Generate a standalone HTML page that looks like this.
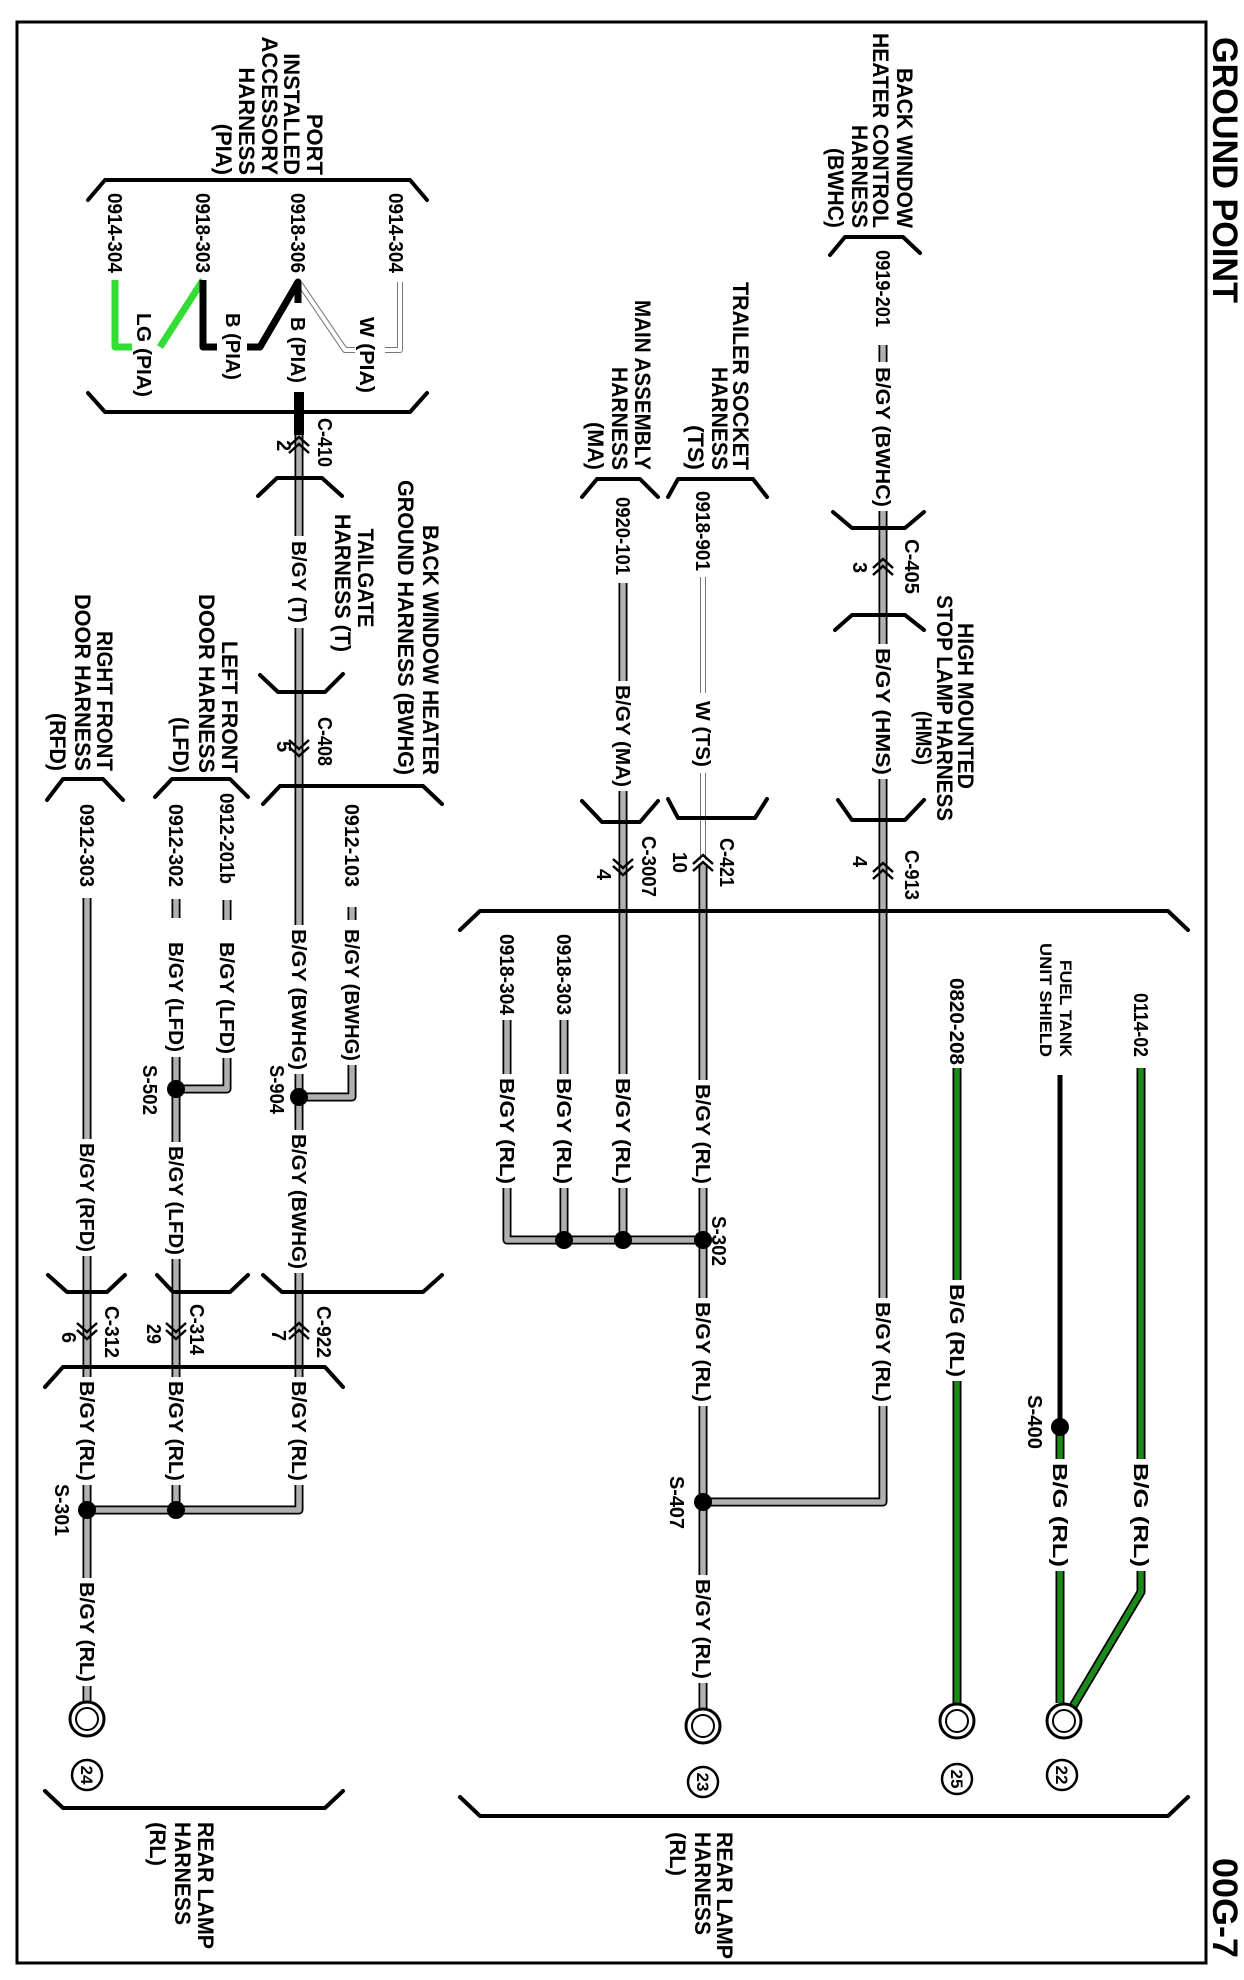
<!DOCTYPE html>
<html><head><meta charset="utf-8"><style>
html,body{margin:0;padding:0;background:#fff;}
svg{display:block;}
text{font-family:"Liberation Sans",Arial,sans-serif;font-weight:bold;fill:#000;}
.w{font-size:20px;}
.h{font-size:22px;}
.s{font-size:17px;}
</style></head><body>
<svg width="1244" height="1980" viewBox="0 0 1244 1980" xmlns="http://www.w3.org/2000/svg">
<rect x="0" y="0" width="1244" height="1980" fill="#fff"/>
<rect x="17" y="22" width="1189" height="1941" fill="none" stroke="#000" stroke-width="3"/>

<defs>
<g id="gray" fill="none">
<path d="M299 433V536 M299 628V925 M299 1074V1130 M299 1273V1377 M299 1485V1510H87
M352 907V920 M352 1065V1097H299 M227 900V920 M227 1058V1089H176
M176 899V918 M176 1057V1142 M176 1259V1377 M176 1485V1510
M87 898V1139 M87 1256V1377 M87 1485V1578 M87 1686V1702
M883 345V362 M883 511V644 M883 779V1298 M883 1406V1502H703
M703 864V1080 M703 1188V1298 M703 1406V1575 M703 1683V1708
M623 583V681 M623 791V1074 M623 1188V1240
M564 1020V1074 M564 1188V1240 M507 1020V1074 M507 1188V1240H703"/>
</g>
<g id="white" fill="none">
<path d="M703 577V693 M703 773V860 M300 284L345 350H355 M385 350H400V282"/>
</g>
<g id="green" fill="none">
<path d="M957 1068V1280 M957 1381V1703 M1060 1427V1459 M1060 1571V1703 M1141 1068V1459 M1141 1571V1592L1072 1708"/>
</g>
</defs>

<use href="#gray" stroke="#000" stroke-width="9" stroke-linejoin="round"/>
<use href="#gray" stroke="#b0b0b0" stroke-width="5.5" stroke-linejoin="round"/>
<use href="#white" stroke="#777" stroke-width="6" stroke-linejoin="round"/>
<use href="#white" stroke="#fff" stroke-width="4" stroke-linejoin="round"/>
<use href="#green" stroke="#000" stroke-width="9" stroke-linejoin="round"/>
<use href="#green" stroke="#1a8a1a" stroke-width="5.5" stroke-linejoin="round"/>

<!-- PIA wires -->
<path d="M115 280V347H132 M160 347L203 280" fill="none" stroke="#33dd33" stroke-width="7" stroke-linejoin="round"/>
<path d="M203 280V347H217 M247 347H260L298 282V303" fill="none" stroke="#000" stroke-width="7" stroke-linejoin="round"/>
<path d="M299 392V435" stroke="#000" stroke-width="10"/>
<path d="M1060 1075V1427" stroke="#000" stroke-width="5"/>

<!-- brackets -->
<g fill="none" stroke="#000" stroke-width="4" stroke-linejoin="round" stroke-linecap="round">
<polyline points="88,200 105,180 410,180 427,200"/>
<polyline points="88,393 105,412 410,412 427,393"/>
<polyline points="258,496 277,478 322,478 342,496"/>
<polyline points="260,675 278,692 325,692 343,674"/>
<polyline points="263,804 280,786 423,786 442,804"/>
<polyline points="155,797 172,779 230,779 248,797"/>
<polyline points="47,800 63,779 103,779 123,800"/>
<polyline points="48,1275 67,1292 107,1292 125,1275"/>
<polyline points="157,1275 173,1292 230,1292 248,1275"/>
<polyline points="263,1275 282,1292 423,1292 442,1275"/>
<polyline points="45,1387 63,1367 325,1367 343,1387"/>
<polyline points="45,1791 63,1808 325,1808 343,1791"/>
<polyline points="460,930 480,911 1168,911 1188,930"/>
<polyline points="460,1797 480,1816 1168,1816 1188,1797"/>
<polyline points="582,497 597,479 640,479 658,497"/>
<polyline points="582,801 602,822 640,822 658,801"/>
<polyline points="668,497 678,479 753,479 767,497"/>
<polyline points="668,799 678,818 755,818 767,799"/>
<polyline points="830,255 845,237 903,237 920,253"/>
<polyline points="833,512 852,528 905,528 924,512"/>
<polyline points="835,630 852,615 905,615 924,630"/>
<polyline points="838,800 852,820 905,820 924,800"/>
</g>

<!-- chevrons -->
<g fill="none" stroke="#000" stroke-width="2.5">
<path d="M289 446L299 437L309 446 M289 453L299 444L309 453"/>
<path d="M289 740L299 749L309 740 M289 747L299 756L309 747"/>
<path d="M77 1323L87 1332L97 1323 M77 1330L87 1339L97 1330"/>
<path d="M166 1323L176 1332L186 1323 M166 1330L176 1339L186 1330"/>
<path d="M289 1332L299 1323L309 1332 M289 1339L299 1330L309 1339"/>
<path d="M873 568L883 559L893 568 M873 575L883 566L893 575"/>
<path d="M873 872L883 863L893 872 M873 879L883 870L893 879"/>
<path d="M693 864L703 855L713 864 M693 871L703 862L713 871"/>
<path d="M613 859L623 868L633 859 M613 866L623 875L633 866"/>
</g>

<!-- splice dots -->
<g fill="#000">
<circle cx="87" cy="1510" r="9"/><circle cx="176" cy="1510" r="9"/>
<circle cx="176" cy="1089" r="9"/><circle cx="299" cy="1097" r="9"/>
<circle cx="703" cy="1240" r="9"/><circle cx="623" cy="1240" r="9"/><circle cx="564" cy="1240" r="9"/>
<circle cx="703" cy="1502" r="9"/><circle cx="1060" cy="1427" r="9"/>
</g>

<!-- ground symbols -->
<g fill="#fff" stroke="#000">
<circle cx="87" cy="1719" r="17" stroke-width="3"/><circle cx="87" cy="1719" r="11" stroke-width="2"/>
<circle cx="703" cy="1726" r="17" stroke-width="3"/><circle cx="703" cy="1726" r="11" stroke-width="2"/>
<circle cx="957" cy="1721" r="17" stroke-width="3"/><circle cx="957" cy="1721" r="11" stroke-width="2"/>
<circle cx="1064" cy="1721" r="17" stroke-width="3"/><circle cx="1064" cy="1721" r="11" stroke-width="2"/>
<circle cx="87" cy="1775" r="15" stroke-width="2.5"/>
<circle cx="703" cy="1782" r="15" stroke-width="2.5"/>
<circle cx="957" cy="1779" r="15" stroke-width="2.5"/>
<circle cx="1062" cy="1775" r="15" stroke-width="2.5"/>
</g>
<g class="s" text-anchor="middle">
<text transform="translate(81,1775) rotate(90)">24</text>
<text transform="translate(697,1782) rotate(90)">23</text>
<text transform="translate(951,1779) rotate(90)">25</text>
<text transform="translate(1056,1775) rotate(90)">22</text>
</g>

<!-- titles -->
<text transform="translate(1213,37) rotate(90)" style="font-size:35px" textLength="266" lengthAdjust="spacingAndGlyphs">GROUND POINT</text>
<text transform="translate(1213,1858) rotate(90)" style="font-size:35px" textLength="100" lengthAdjust="spacingAndGlyphs">00G-7</text>

<!-- wire labels -->
<g class="w">
<text transform="translate(108,193) rotate(90)" textLength="80" lengthAdjust="spacingAndGlyphs">0914-304</text>
<text transform="translate(196,193) rotate(90)" textLength="80" lengthAdjust="spacingAndGlyphs">0918-303</text>
<text transform="translate(291,193) rotate(90)" textLength="80" lengthAdjust="spacingAndGlyphs">0918-306</text>
<text transform="translate(389,193) rotate(90)" textLength="80" lengthAdjust="spacingAndGlyphs">0914-304</text>
<text transform="translate(137,313) rotate(90)" textLength="84" lengthAdjust="spacingAndGlyphs">LG (PIA)</text>
<text transform="translate(226,313) rotate(90)" textLength="67" lengthAdjust="spacingAndGlyphs">B (PIA)</text>
<text transform="translate(291,317) rotate(90)" textLength="66" lengthAdjust="spacingAndGlyphs">B (PIA)</text>
<text transform="translate(360,317) rotate(90)" textLength="76" lengthAdjust="spacingAndGlyphs">W (PIA)</text>
<text transform="translate(318,418) rotate(90)" textLength="49" lengthAdjust="spacingAndGlyphs">C-410</text>
<text transform="translate(277,440) rotate(90)">2</text>
<text transform="translate(292,541) rotate(90)" textLength="82" lengthAdjust="spacingAndGlyphs">B/GY (T)</text>
<text transform="translate(318,717) rotate(90)" textLength="49" lengthAdjust="spacingAndGlyphs">C-408</text>
<text transform="translate(277,741) rotate(90)">5</text>
<text transform="translate(345,804) rotate(90)" textLength="83" lengthAdjust="spacingAndGlyphs">0912-103</text>
<text transform="translate(345,929) rotate(90)" textLength="132" lengthAdjust="spacingAndGlyphs">B/GY (BWHG)</text>
<text transform="translate(292,929) rotate(90)" textLength="141" lengthAdjust="spacingAndGlyphs">B/GY (BWHG)</text>
<text transform="translate(220,793) rotate(90)" textLength="91" lengthAdjust="spacingAndGlyphs">0912-201b</text>
<text transform="translate(220,942) rotate(90)" textLength="112" lengthAdjust="spacingAndGlyphs">B/GY (LFD)</text>
<text transform="translate(169,804) rotate(90)" textLength="83" lengthAdjust="spacingAndGlyphs">0912-302</text>
<text transform="translate(169,942) rotate(90)" textLength="110" lengthAdjust="spacingAndGlyphs">B/GY (LFD)</text>
<text transform="translate(80,804) rotate(90)" textLength="83" lengthAdjust="spacingAndGlyphs">0912-303</text>
<text transform="translate(270,1065) rotate(90)" textLength="49" lengthAdjust="spacingAndGlyphs">S-904</text>
<text transform="translate(143,1065) rotate(90)" textLength="50" lengthAdjust="spacingAndGlyphs">S-502</text>
<text transform="translate(80,1143) rotate(90)" textLength="109" lengthAdjust="spacingAndGlyphs">B/GY (RFD)</text>
<text transform="translate(169,1146) rotate(90)" textLength="109" lengthAdjust="spacingAndGlyphs">B/GY (LFD)</text>
<text transform="translate(292,1134) rotate(90)" textLength="135" lengthAdjust="spacingAndGlyphs">B/GY (BWHG)</text>
<text transform="translate(105,1306) rotate(90)" textLength="52" lengthAdjust="spacingAndGlyphs">C-312</text>
<text transform="translate(62,1332) rotate(90)">6</text>
<text transform="translate(190,1304) rotate(90)" textLength="51" lengthAdjust="spacingAndGlyphs">C-314</text>
<text transform="translate(147,1324) rotate(90)" textLength="20" lengthAdjust="spacingAndGlyphs">29</text>
<text transform="translate(317,1306) rotate(90)" textLength="52" lengthAdjust="spacingAndGlyphs">C-922</text>
<text transform="translate(272,1330) rotate(90)">7</text>
<text transform="translate(80,1381) rotate(90)" textLength="100" lengthAdjust="spacingAndGlyphs">B/GY (RL)</text>
<text transform="translate(169,1381) rotate(90)" textLength="100" lengthAdjust="spacingAndGlyphs">B/GY (RL)</text>
<text transform="translate(292,1381) rotate(90)" textLength="100" lengthAdjust="spacingAndGlyphs">B/GY (RL)</text>
<text transform="translate(55,1484) rotate(90)" textLength="52" lengthAdjust="spacingAndGlyphs">S-301</text>
<text transform="translate(80,1582) rotate(90)" textLength="100" lengthAdjust="spacingAndGlyphs">B/GY (RL)</text>

<text transform="translate(876,250) rotate(90)" textLength="77" lengthAdjust="spacingAndGlyphs">0919-201</text>
<text transform="translate(876,367) rotate(90)" textLength="140" lengthAdjust="spacingAndGlyphs">B/GY (BWHC)</text>
<text transform="translate(905,539) rotate(90)" textLength="55" lengthAdjust="spacingAndGlyphs">C-405</text>
<text transform="translate(853,562) rotate(90)">3</text>
<text transform="translate(876,648) rotate(90)" textLength="127" lengthAdjust="spacingAndGlyphs">B/GY (HMS)</text>
<text transform="translate(905,850) rotate(90)" textLength="50" lengthAdjust="spacingAndGlyphs">C-913</text>
<text transform="translate(853,856) rotate(90)">4</text>
<text transform="translate(696,491) rotate(90)" textLength="80" lengthAdjust="spacingAndGlyphs">0918-901</text>
<text transform="translate(696,701) rotate(90)" textLength="66" lengthAdjust="spacingAndGlyphs">W (TS)</text>
<text transform="translate(720,838) rotate(90)" textLength="49" lengthAdjust="spacingAndGlyphs">C-421</text>
<text transform="translate(673,852) rotate(90)" textLength="21" lengthAdjust="spacingAndGlyphs">10</text>
<text transform="translate(616,497) rotate(90)" textLength="78" lengthAdjust="spacingAndGlyphs">0920-101</text>
<text transform="translate(616,685) rotate(90)" textLength="102" lengthAdjust="spacingAndGlyphs">B/GY (MA)</text>
<text transform="translate(642,836) rotate(90)" textLength="61" lengthAdjust="spacingAndGlyphs">C-3007</text>
<text transform="translate(597,869) rotate(90)">4</text>
<text transform="translate(557,934) rotate(90)" textLength="81" lengthAdjust="spacingAndGlyphs">0918-303</text>
<text transform="translate(500,934) rotate(90)" textLength="81" lengthAdjust="spacingAndGlyphs">0918-304</text>
<text transform="translate(500,1078) rotate(90)" textLength="106" lengthAdjust="spacingAndGlyphs">B/GY (RL)</text>
<text transform="translate(557,1078) rotate(90)" textLength="106" lengthAdjust="spacingAndGlyphs">B/GY (RL)</text>
<text transform="translate(616,1078) rotate(90)" textLength="106" lengthAdjust="spacingAndGlyphs">B/GY (RL)</text>
<text transform="translate(696,1084) rotate(90)" textLength="100" lengthAdjust="spacingAndGlyphs">B/GY (RL)</text>
<text transform="translate(712,1216) rotate(90)" textLength="50" lengthAdjust="spacingAndGlyphs">S-302</text>
<text transform="translate(696,1302) rotate(90)" textLength="100" lengthAdjust="spacingAndGlyphs">B/GY (RL)</text>
<text transform="translate(876,1302) rotate(90)" textLength="100" lengthAdjust="spacingAndGlyphs">B/GY (RL)</text>
<text transform="translate(670,1476) rotate(90)" textLength="53" lengthAdjust="spacingAndGlyphs">S-407</text>
<text transform="translate(696,1579) rotate(90)" textLength="100" lengthAdjust="spacingAndGlyphs">B/GY (RL)</text>
<text transform="translate(950,978) rotate(90)" textLength="87" lengthAdjust="spacingAndGlyphs">0820-208</text>
<text transform="translate(950,1284) rotate(90)" textLength="93" lengthAdjust="spacingAndGlyphs">B/G (RL)</text>
<text transform="translate(1028,1395) rotate(90)" textLength="54" lengthAdjust="spacingAndGlyphs">S-400</text>
<text transform="translate(1053,1463) rotate(90)" textLength="104" lengthAdjust="spacingAndGlyphs">B/G (RL)</text>
<text transform="translate(1134,993) rotate(90)" textLength="64" lengthAdjust="spacingAndGlyphs">0114-02</text>
<text transform="translate(1134,1463) rotate(90)" textLength="104" lengthAdjust="spacingAndGlyphs">B/G (RL)</text>
</g>

<!-- harness labels -->
<g class="h" text-anchor="end">
<text transform="translate(307,175) rotate(90)">PORT</text>
<text transform="translate(284,175) rotate(90)">INSTALLED</text>
<text transform="translate(262,175) rotate(90)">ACCESSORY</text>
<text transform="translate(239,175) rotate(90)">HARNESS</text>
<text transform="translate(216,175) rotate(90)">(PIA)</text>

<text transform="translate(423,775) rotate(90)" textLength="250" lengthAdjust="spacingAndGlyphs">BACK WINDOW HEATER</text>
<text transform="translate(398,775) rotate(90)" textLength="295" lengthAdjust="spacingAndGlyphs">GROUND HARNESS (BWHG)</text>

<text transform="translate(222,773) rotate(90)" textLength="132" lengthAdjust="spacingAndGlyphs">LEFT FRONT</text>
<text transform="translate(199,773) rotate(90)" textLength="179" lengthAdjust="spacingAndGlyphs">DOOR HARNESS</text>
<text transform="translate(173,773) rotate(90)" textLength="56" lengthAdjust="spacingAndGlyphs">(LFD)</text>

<text transform="translate(97,771) rotate(90)" textLength="140" lengthAdjust="spacingAndGlyphs">RIGHT FRONT</text>
<text transform="translate(75,771) rotate(90)" textLength="177" lengthAdjust="spacingAndGlyphs">DOOR HARNESS</text>
<text transform="translate(50,771) rotate(90)" textLength="58" lengthAdjust="spacingAndGlyphs">(RFD)</text>

<text transform="translate(897,228) rotate(90)" textLength="160" lengthAdjust="spacingAndGlyphs">BACK WINDOW</text>
<text transform="translate(873,228) rotate(90)" textLength="195" lengthAdjust="spacingAndGlyphs">HEATER CONTROL</text>
<text transform="translate(852,228) rotate(90)" textLength="103" lengthAdjust="spacingAndGlyphs">HARNESS</text>
<text transform="translate(828,228) rotate(90)" textLength="80" lengthAdjust="spacingAndGlyphs">(BWHC)</text>

<text transform="translate(733,470) rotate(90)" textLength="188" lengthAdjust="spacingAndGlyphs">TRAILER SOCKET</text>
<text transform="translate(712,470) rotate(90)" textLength="103" lengthAdjust="spacingAndGlyphs">HARNESS</text>
<text transform="translate(688,470) rotate(90)" textLength="45" lengthAdjust="spacingAndGlyphs">(TS)</text>

<text transform="translate(635,470) rotate(90)" textLength="170" lengthAdjust="spacingAndGlyphs">MAIN ASSEMBLY</text>
<text transform="translate(612,470) rotate(90)" textLength="103" lengthAdjust="spacingAndGlyphs">HARNESS</text>
<text transform="translate(588,470) rotate(90)" textLength="48" lengthAdjust="spacingAndGlyphs">(MA)</text>
</g>
<g class="h" text-anchor="middle">
<text transform="translate(358,578) rotate(90)" textLength="99" lengthAdjust="spacingAndGlyphs">TAILGATE</text>
<text transform="translate(335,583) rotate(90)" textLength="138" lengthAdjust="spacingAndGlyphs">HARNESS (T)</text>
<text transform="translate(958,706) rotate(90)" textLength="166" lengthAdjust="spacingAndGlyphs">HIGH MOUNTED</text>
<text transform="translate(937,708) rotate(90)" textLength="226" lengthAdjust="spacingAndGlyphs">STOP LAMP HARNESS</text>
<text transform="translate(916,738) rotate(90)" textLength="54" lengthAdjust="spacingAndGlyphs">(HMS)</text>
</g>
<g class="h">
<text transform="translate(198,1822) rotate(90)" textLength="127" lengthAdjust="spacingAndGlyphs">REAR LAMP</text>
<text transform="translate(175,1822) rotate(90)" textLength="103" lengthAdjust="spacingAndGlyphs">HARNESS</text>
<text transform="translate(150,1822) rotate(90)">(RL)</text>
<text transform="translate(717,1832) rotate(90)" textLength="127" lengthAdjust="spacingAndGlyphs">REAR LAMP</text>
<text transform="translate(695,1832) rotate(90)" textLength="103" lengthAdjust="spacingAndGlyphs">HARNESS</text>
<text transform="translate(670,1832) rotate(90)">(RL)</text>
</g>
<g class="s" text-anchor="end">
<text transform="translate(1060,1057) rotate(90)" textLength="97" lengthAdjust="spacingAndGlyphs">FUEL TANK</text>
<text transform="translate(1040,1057) rotate(90)" textLength="114" lengthAdjust="spacingAndGlyphs">UNIT SHIELD</text>
</g>
</svg>
</body></html>
